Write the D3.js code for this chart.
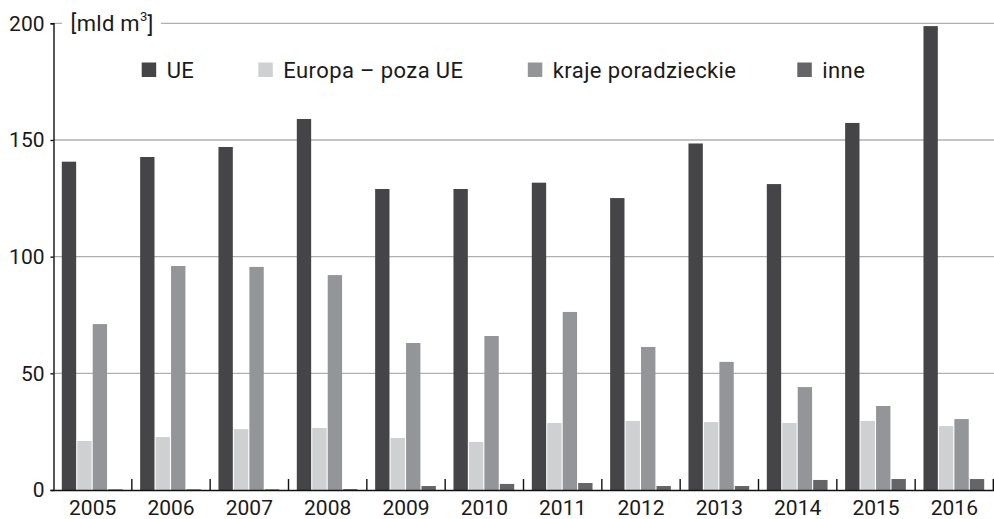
<!DOCTYPE html>
<html>
<head>
<meta charset="utf-8">
<script src="https://cdn.jsdelivr.net/npm/d3@7"></script>
<style>
  html, body { margin: 0; padding: 0; background: #fff; }
  svg text { font-family: Roboto, "Liberation Sans", sans-serif; fill: #1a1a1a; }
</style>
</head>
<body>
<svg id="chart" width="994" height="519"></svg>
<script>
const years = ["2005","2006","2007","2008","2009","2010","2011","2012","2013","2014","2015","2016"];
const seriesNames = ["UE", "Europa – poza UE", "kraje poradzieckie", "inne"];
const ue     = [140.7, 142.7, 147.0, 159.0, 129.0, 129.0, 131.7, 125.1, 148.5, 131.1, 157.3, 198.8];
const europa = [21.0, 22.7, 26.1, 26.6, 22.3, 20.6, 28.7, 29.6, 29.1, 28.7, 29.6, 27.4];
const poradz = [71.1, 96.0, 95.6, 92.1, 63.0, 66.0, 76.3, 61.3, 54.9, 44.1, 36.0, 30.4];
const inne   = [0.3, 0.3, 0.3, 0.4, 1.7, 2.6, 3.0, 1.7, 1.7, 4.3, 4.7, 4.7];
const yTicks = [0, 50, 100, 150, 200];
const colors = ["#454547", "#cfd0d2", "#939598", "#656567"];

const allSeries = [ue, europa, poradz, inne];
const svg = d3.select("#chart");

const x = d3.scaleBand().domain(years).range([53.5, 993.5]).paddingInner(0).paddingOuter(0);
const xs = d3.scaleBand().domain(d3.range(4)).range([8.3, x.bandwidth() - 8.2]).padding(0);
const y = d3.scaleLinear().domain([0, 200]).range([490, 23.3]);

// grid lines
svg.append("g").selectAll("line").data(yTicks.filter(d => d > 0)).join("line")
  .attr("x1", 53.5).attr("x2", 994)
  .attr("y1", d => y(d)).attr("y2", d => y(d))
  .attr("stroke", "#b0b0b0").attr("stroke-width", 1.3);

// unit label with white background
const ul = svg.append("g");
ul.append("rect").attr("x", 62).attr("y", 10).attr("width", 99).attr("height", 26).attr("fill", "#fff");
const ut = ul.append("text").attr("x", 70.5).attr("y", y(200)).attr("dy", "0.35em")
  .attr("font-size", 22).attr("letter-spacing", 0.3);
ut.append("tspan").text("[mld m");
ut.append("tspan").attr("font-size", 13).attr("dy", "-0.75em").text("3");
ut.append("tspan").attr("dy", "0.55em").text("]");

// bars
const data = [];
years.forEach((yr, i) => allSeries.forEach((s, j) => data.push({ yr, j, v: s[i] })));
svg.append("g").selectAll("rect").data(data).join("rect")
  .attr("x", d => x(d.yr) + xs(d.j))
  .attr("width", xs.bandwidth() - 1.1)
  .attr("y", d => y(d.v))
  .attr("height", d => y(0) - y(d.v))
  .attr("fill", d => colors[d.j]);

// y axis
const yAxis = d3.axisLeft(y).tickValues(yTicks).tickSize(3).tickPadding(6);
const gy = svg.append("g").attr("transform", "translate(53.5,0)").call(yAxis);
gy.select(".domain").attr("stroke", "#111").attr("stroke-width", 1.4);
gy.selectAll(".tick line").attr("stroke", "#111").attr("stroke-width", 1.4);
gy.selectAll("text").attr("font-size", 21).attr("font-family", "Roboto, sans-serif").attr("fill", "#1a1a1a");

// x axis
const xAxis = d3.axisBottom(x).tickSize(0).tickPadding(10);
const gx = svg.append("g").attr("transform", `translate(0,${y(0)})`).call(xAxis);
gx.select(".domain").attr("stroke", "#111").attr("stroke-width", 1.6);
gx.selectAll("text").attr("font-size", 21).attr("font-family", "Roboto, sans-serif").attr("fill", "#1a1a1a");
// boundary ticks
svg.append("g").selectAll("line").data(years.slice(1).concat(["end"])).join("line")
  .attr("x1", d => d === "end" ? 993.3 : x(d)).attr("x2", d => d === "end" ? 993.3 : x(d))
  .attr("y1", y(0)).attr("y2", y(0) - 11)
  .attr("stroke", "#111").attr("stroke-width", 1.4);

// legend
const legendX = [141.7, 258.3, 527.8, 797.3];
const lg = svg.append("g").selectAll("g").data(seriesNames).join("g")
  .attr("transform", (d, i) => `translate(${legendX[i]},62.5)`);
lg.append("rect").attr("width", 14.5).attr("height", 14.5).attr("fill", (d, i) => colors[i]);
lg.append("text").attr("x", 25).attr("y", 7.3).attr("dy", "0.36em").attr("font-size", 22)
  .attr("letter-spacing", 0.4).text(d => d);
</script>
</body>
</html>
